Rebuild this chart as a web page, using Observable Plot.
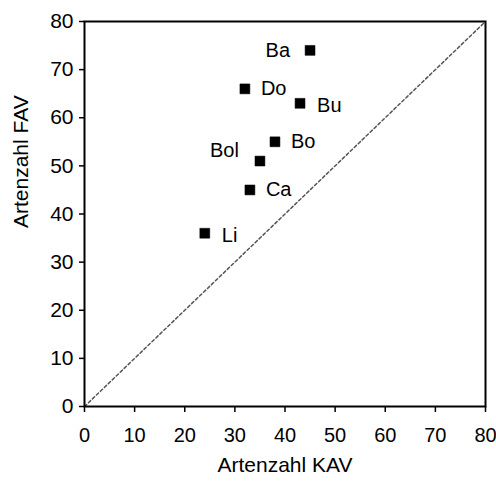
<!DOCTYPE html>
<html>
<head>
<meta charset="utf-8">
<script src="https://cdn.jsdelivr.net/npm/d3@7"></script>
<script src="https://cdn.jsdelivr.net/npm/@observablehq/plot@0.6"></script>
<style>
  html, body { margin: 0; padding: 0; background: #fff; }
  #chart svg { display: block; overflow: visible; }
</style>
</head>
<body>
<div id="chart"></div>
<script>
const sites = ["Ba", "Do", "Bu", "Bo", "Bol", "Ca", "Li"];
const kav = [45, 32, 43, 38, 35, 33, 24];
const fav = [74, 66, 63, 55, 51, 45, 36];
const ticks = [0, 10, 20, 30, 40, 50, 60, 70, 80];
const xTitle = "Artenzahl KAV";
const yTitle = "Artenzahl FAV";

const data = sites.map((s, i) => ({site: s, kav: kav[i], fav: fav[i]}));
const font = "Liberation Sans, Arial, sans-serif";

const labelsRight = ["Do", "Bo", "Ca"];
const labelsRightLow = ["Bu", "Li"];
const labelsLeft = ["Ba"];
const labelsLeftHigh = ["Bol"];

const chart = Plot.plot({
  width: 496,
  height: 491,
  marginLeft: 84,
  marginRight: 11,
  marginTop: 21,
  marginBottom: 85,
  style: {fontFamily: font, fontSize: "20px", color: "#000", background: "#fff"},
  x: {domain: [0, 80]},
  y: {domain: [0, 80]},
  marks: [
    Plot.line([[0, 0], [80, 80]], {stroke: "#555", strokeWidth: 1.5, strokeDasharray: "3,2.5"}),
    Plot.frame({stroke: "#000", strokeWidth: 2}),
    Plot.axisX({ticks, tickSize: 6, tickPadding: 15, fontSize: 20, strokeWidth: 1.5, label: null}),
    Plot.axisY({ticks, tickSize: 5, tickPadding: 6, fontSize: 21, strokeWidth: 1.5, label: null}),
    Plot.text([xTitle], {frameAnchor: "bottom", lineAnchor: "middle", dy: 59, fontSize: 21, text: d => d}),
    Plot.text([yTitle], {frameAnchor: "left", dx: -63, dy: 14, rotate: -90, fontSize: 21, text: d => d}),
    Plot.dot(data, {x: "kav", y: "fav", symbol: "square", r: 5.6, fill: "#000", stroke: "#000", strokeWidth: 0.5, strokeLinejoin: "round"}),
    Plot.text(data.filter(d => labelsRight.includes(d.site)), {x: "kav", y: "fav", text: "site", textAnchor: "start", dx: 16, fontSize: 20}),
    Plot.text(data.filter(d => labelsRightLow.includes(d.site)), {x: "kav", y: "fav", text: "site", textAnchor: "start", dx: 17, dy: 2, fontSize: 20}),
    Plot.text(data.filter(d => labelsLeft.includes(d.site)), {x: "kav", y: "fav", text: "site", textAnchor: "end", dx: -20, fontSize: 20}),
    Plot.text(data.filter(d => labelsLeftHigh.includes(d.site)), {x: "kav", y: "fav", text: "site", textAnchor: "end", dx: -21, dy: -10, fontSize: 20})
  ]
});
document.getElementById("chart").appendChild(chart);
</script>
</body>
</html>
